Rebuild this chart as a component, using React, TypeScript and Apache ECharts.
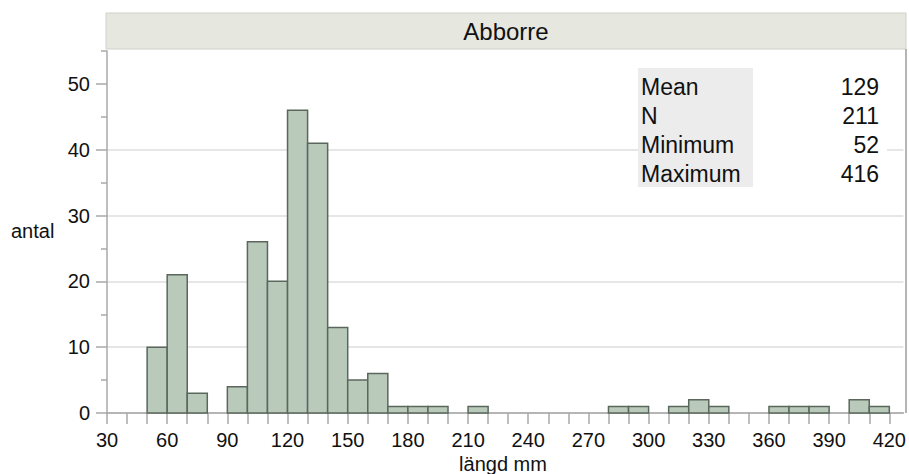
import React, { useEffect, useRef } from "react";
import * as echarts from "echarts";

const binStarts = [50, 60, 70, 90, 100, 110, 120, 130, 140, 150, 160, 170, 180, 190, 210, 280, 290, 310, 320, 330, 360, 370, 380, 400, 410];
const counts = [10, 21, 3, 4, 26, 20, 46, 41, 13, 5, 6, 1, 1, 1, 1, 1, 1, 1, 2, 1, 1, 1, 1, 2, 1];
const binWidth = 10;
const xTicks = [30, 40, 50, 60, 70, 80, 90, 100, 110, 120, 130, 140, 150, 160, 170, 180, 190, 200, 210, 220, 230, 240, 250, 260, 270, 280, 290, 300, 310, 320, 330, 340, 350, 360, 370, 380, 390, 400, 410, 420];
const xLabels = [30, 60, 90, 120, 150, 180, 210, 240, 270, 300, 330, 360, 390, 420];
const yLabels = [0, 10, 20, 30, 40, 50];
const yMinorTicks = [5, 15, 25, 35, 45, 55];
const statNames = ["Mean", "N", "Minimum", "Maximum"];
const statValues = ["129", "211", "52", "416"];
const title = "Abborre";
const xName = "längd mm";
const yName = "antal";

const FONT = "'Liberation Sans', Arial, Helvetica, sans-serif";

export default function App() {
  const ref = useRef<HTMLDivElement>(null);
  useEffect(() => {
    if (!ref.current) return;
    const chart = echarts.init(ref.current, null, { renderer: "svg" });
    const data = binStarts.map((s, i) => [s, s + binWidth, counts[i]]);
    const statGraphics: any[] = [];
    statNames.forEach((n, i) => {
      statGraphics.push({
        type: "text",
        x: 641,
        y: 87 + i * 29,
        z: 11,
        style: { text: n, fontSize: 23, fontFamily: FONT, fill: "#111", textVerticalAlign: "middle", textAlign: "left" },
      });
      statGraphics.push({
        type: "text",
        x: 879,
        y: 87 + i * 29,
        z: 11,
        style: { text: statValues[i], fontSize: 23, fontFamily: FONT, fill: "#111", textVerticalAlign: "middle", textAlign: "right" },
      });
    });
    chart.setOption({
      animation: false,
      backgroundColor: "#ffffff",
      textStyle: { fontFamily: FONT },
      grid: { left: 107, right: 3, top: 51, bottom: 61, containLabel: false },
      xAxis: {
        type: "value",
        min: 30,
        max: 427,
        interval: 10,
        axisLine: { show: true, lineStyle: { color: "#9d9d9d", width: 1.5 } },
        axisTick: { show: true, length: 11, customValues: xTicks, lineStyle: { color: "#a8a8a8", width: 1.5 } },
        axisLabel: { customValues: xLabels, fontSize: 20, color: "#111", margin: 17, fontFamily: FONT },
        splitLine: { show: false },
      },
      yAxis: [
        {
          type: "value",
          min: 0,
          max: 55,
          interval: 10,
          axisLine: { show: true, lineStyle: { color: "#a8a8a8", width: 1.5 } },
          axisTick: { show: true, length: 11, customValues: yLabels, lineStyle: { color: "#a8a8a8", width: 1.5 } },
          axisLabel: { customValues: yLabels, fontSize: 20, color: "#111", margin: 17, fontFamily: FONT },
          splitLine: { show: true, showMinLine: false, showMaxLine: false, lineStyle: { color: "#dedede", width: 1.5 } },
        },
        {
          type: "value",
          min: 0,
          max: 55,
          interval: 5,
          position: "left",
          axisLine: { show: false },
          axisTick: { show: true, length: 6, customValues: yMinorTicks, lineStyle: { color: "#a8a8a8", width: 1.5 } },
          axisLabel: { show: false },
          splitLine: { show: false },
        },
      ],
      graphic: [
        {
          type: "rect",
          shape: { x: 106, y: 13, width: 800, height: 36 },
          style: { fill: "#e6e7df", stroke: "#d0d1c9", lineWidth: 1 },
          z: 5,
        },
        {
          type: "text",
          x: 506,
          y: 31,
          z: 6,
          style: { text: title, fontSize: 24, fontFamily: FONT, fill: "#111", textAlign: "center", textVerticalAlign: "middle" },
        },
        {
          type: "line",
          shape: { x1: 906, y1: 49, x2: 906, y2: 413 },
          style: { stroke: "#9d9d9d", lineWidth: 1.5 },
          z: 5,
        },
        {
          type: "rect",
          shape: { x: 638, y: 68, width: 115, height: 119 },
          style: { fill: "#ececec" },
          z: 10,
        },
        {
          type: "rect",
          shape: { x: 753, y: 68, width: 134, height: 119 },
          style: { fill: "#ffffff" },
          z: 10,
        },
        ...statGraphics,
        {
          type: "text",
          x: 11,
          y: 231,
          z: 6,
          style: { text: yName, fontSize: 20, fontFamily: FONT, fill: "#111", textAlign: "left", textVerticalAlign: "middle" },
        },
        {
          type: "text",
          x: 503,
          y: 464,
          z: 6,
          style: { text: xName, fontSize: 20, fontFamily: FONT, fill: "#111", textAlign: "center", textVerticalAlign: "middle" },
        },
      ],
      series: [
        {
          type: "custom",
          data,
          encode: { x: [0, 1], y: 2 },
          renderItem: (params: any, api: any) => {
            const v = api.value(2);
            if (!v) return null;
            const p0 = api.coord([api.value(0), v]);
            const p1 = api.coord([api.value(1), 0]);
            return {
              type: "rect",
              shape: { x: p0[0], y: p0[1], width: p1[0] - p0[0], height: p1[1] - p0[1] },
              style: { fill: "#b9cabb", stroke: "#5b675d", lineWidth: 1.5 },
            };
          },
        },
      ],
    });
    return () => chart.dispose();
  }, []);
  return <div ref={ref} style={{ position: "fixed", left: 0, top: 0, width: 909, height: 474 }} />;
}
